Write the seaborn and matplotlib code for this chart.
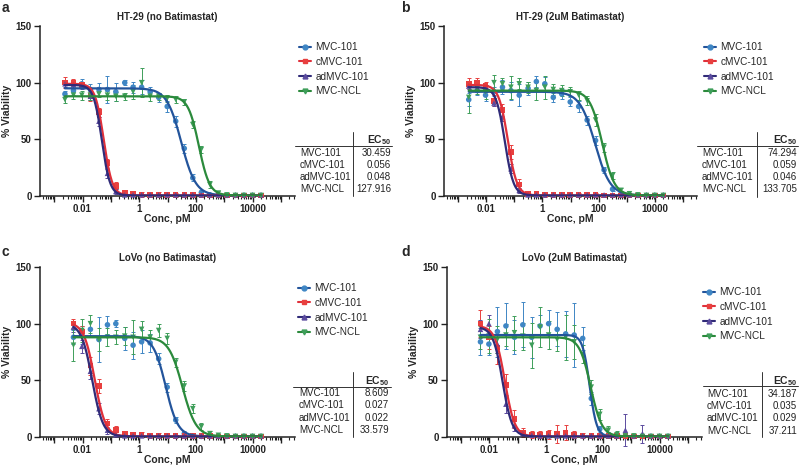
import numpy as np
import pandas as pd
import matplotlib
matplotlib.use('Agg')
import matplotlib.pyplot as plt
import seaborn as sns
from matplotlib.lines import Line2D
from matplotlib.ticker import FixedLocator, FuncFormatter, NullFormatter

# ---------------- data ----------------
drugs = ['MVC-101', 'cMVC-101', 'adMVC-101', 'MVC-NCL']

# concentrations, pM (2-fold dilution series)
conc_ht29 = [0.0024, 0.0048, 0.0095, 0.019, 0.038, 0.076, 0.15, 0.31, 0.61, 1.22, 2.44, 4.88,
             9.77, 19.5, 39.1, 78.1, 156, 313, 625, 1250, 2500, 5000, 10000, 20000]
conc_lovo = [0.0048, 0.0095, 0.019, 0.038, 0.076, 0.15, 0.31, 0.61, 1.22, 2.44, 4.88,
             9.77, 19.5, 39.1, 78.1, 156, 313, 625, 1250, 2500, 5000, 10000, 20000]

# panel a: HT-29 (no Batimastat)
a_mvc = [90, 93, 99, 94, 94, 94, 92, 100, 96, 96, 92, 87, 79, 66, 42, 16, 3, 1, 0.5, 0.5, 0.5, 0.5, 0.5, 0.5]
a_mvc_sd = [3, 4, 4, 5, 6, 12, 8, 2, 5, 6, 4, 4, 5, 5, 4, 3, 2, 1, 1, 1, 1, 1, 1, 1]
a_cmvc = [100, 100, 98, 88, 74, 29, 9, 3, 2, 1.5, 1, 1.5, 1, 1, 1, 1, 0.5, 0.5, 0.5, 0.5, 0.5, 0.5, 0.5, 0.5]
a_cmvc_sd = [5, 3, 3, 4, 4, 4, 3, 2, 2, 2, 2, 2, 2, 2, 2, 1, 1, 1, 1, 1, 1, 1, 1, 1]
a_admvc = [99, 98, 97, 88, 66, 20, 4, 1, 1, 1, 1, 1, 1, 1, 1, 1, 1, 1, 1, 1, 1, 1, 1, 1]
a_admvc_sd = [3, 3, 3, 3, 4, 4, 2, 1, 1, 1, 1, 1, 1, 1, 1, 1, 1, 1, 1, 1, 1, 1, 1, 1]
a_ncl = [85, 89, 89, 89, 90, 89, 88, 88, 92, 100, 88, 88, 86, 85, 83, 63, 41, 10, 2.6, 1, 0.5, 0.5, 0.5, 0.5]
a_ncl_sd = [3, 3, 4, 4, 3, 4, 4, 3, 6, 13, 4, 3, 3, 3, 3, 3, 3, 3, 2, 1, 1, 1, 1, 1]

# panel b: HT-29 (2uM Batimastat)
b_mvc = [85, 93, 89, 92, 96, 93, 89, 95, 101, 99, 87, 90, 83, 79, 67, 49, 23, 6, 2, 1, 0.5, 0.5, 0.5, 0.5]
b_mvc_sd = [6, 4, 5, 4, 6, 8, 10, 6, 5, 6, 4, 4, 4, 5, 4, 4, 3, 2, 1, 1, 1, 1, 1, 1]
b_cmvc = [99, 100, 97, 84, 76, 39, 10, 2, 2, 1.5, 1.5, 1.5, 1, 1, 1, 1, 0.5, 0.5, 0.5, 0.5, 0.5, 0.5, 0.5, 0.5]
b_cmvc_sd = [5, 4, 4, 5, 5, 6, 5, 2, 2, 2, 2, 2, 1.5, 1.5, 1.5, 1.5, 1, 1, 1, 1, 1, 1, 1, 1]
b_admvc = [97, 95, 95, 82, 70, 24, 5, 1, 1, 1, 1, 1, 1, 1, 1, 1, 1, 1, 1, 1, 1, 1, 1, 1]
b_admvc_sd = [3, 3, 3, 3, 4, 4, 2, 1, 1, 1, 1, 1, 1, 1, 1, 1, 1, 1, 1, 1, 1, 1, 1, 1]
b_ncl = [87, 95, 92, 100, 99, 96, 99, 96, 93, 96, 94, 93, 92, 89, 84, 67, 43, 18, 5, 2, 1, 0.5, 0.5, 0.5]
b_ncl_sd = [14, 5, 6, 7, 5, 10, 5, 5, 8, 10, 5, 5, 4, 4, 4, 5, 4, 3, 2, 1, 1, 1, 1, 1]

# panel c: LoVo (no Batimastat)
c_mvc = [88, 90, 95, 86, 99, 100, 87, 81, 84, 83, 69, 44, 15, 3, 1, 0.5, 0.5, 0.5, 0.5, 0.5, 0.5, 0.5, 0.5]
c_mvc_sd = [6, 8, 7, 20, 8, 3, 10, 12, 10, 8, 5, 4, 3, 2, 1, 1, 1, 1, 1, 1, 1, 1, 1]
c_cmvc = [100, 93, 63, 45, 12, 6, 3, 2, 2, 1.5, 1.5, 1.5, 1, 1, 1, 1, 1, 0.5, 0.5, 0.5, 0.5, 0.5, 0.5]
c_cmvc_sd = [4, 5, 8, 6, 4, 4, 2, 2, 2, 2, 2, 2, 1, 1, 1, 1, 1, 1, 1, 1, 1, 1, 1]
c_admvc = [97, 80, 58, 25, 6, 2, 1, 1, 1, 1, 1, 1, 1, 1, 1, 1, 1, 1, 1, 1, 1, 1, 1]
c_admvc_sd = [4, 6, 7, 5, 3, 2, 1, 1, 1, 1, 1, 1, 1, 1, 1, 1, 1, 1, 1, 1, 1, 1, 1]
c_ncl = [81, 94, 100, 86, 88, 88, 89, 88, 95, 88, 94, 87, 66, 45, 25, 9, 3, 1.5, 1, 0.5, 0.5, 0.5, 0.5]
c_ncl_sd = [14, 10, 8, 10, 8, 6, 8, 15, 7, 6, 6, 5, 4, 4, 4, 3, 2, 1, 1, 1, 1, 1, 1]

# panel d: LoVo (2uM Batimastat)
d_mvc = [84, 82, 93, 98, 88, 99, 88, 98, 100, 95, 91, 90, 87, 34, 7, 2, 1, 1, 0.5, 0.5, 0.5, 0.5, 0.5]
d_mvc_sd = [12, 10, 22, 20, 15, 20, 18, 10, 12, 15, 20, 28, 10, 6, 3, 2, 1, 1, 1, 1, 1, 1, 1]
d_cmvc = [100, 88, 79, 46, 16, 4, 2, 2, 2.5, 3, 4, 2, 1.5, 1.5, 1, 1, 1, 1, 0.5, 0.5, 0.5, 0.5, 0.5]
d_cmvc_sd = [12, 10, 15, 10, 8, 4, 3, 3, 4, 8, 7, 3, 2, 2, 2, 2, 1, 1, 1, 1, 1, 1, 1]
d_admvc = [95, 100, 82, 29, 10, 3, 1.5, 1, 1, 1, 1, 1, 1, 1, 1, 1, 1, 6, 1, 3, 1, 1, 1]
d_admvc_sd = [8, 8, 8, 8, 5, 2, 1, 1, 1, 1, 1, 1, 1, 1, 1, 1, 1, 14, 1, 8, 1, 1, 1]
d_ncl = [88, 89, 86, 90, 92, 89, 81, 97, 90, 86, 88, 84, 73, 44, 20, 6, 2, 1, 1, 0.5, 0.5, 0.5, 0.5]
d_ncl_sd = [10, 15, 12, 10, 15, 12, 20, 18, 12, 10, 20, 15, 8, 6, 5, 4, 3, 2, 1, 1, 1, 1, 1]

# 4PL fit parameters [MVC-101, cMVC-101, adMVC-101, MVC-NCL]
a_ec50 = [30.459, 0.056, 0.048, 127.916]
b_ec50 = [74.294, 0.059, 0.046, 133.705]
c_ec50 = [8.609, 0.027, 0.022, 33.579]
d_ec50 = [34.187, 0.035, 0.029, 37.211]
a_top, a_hill = [95, 99, 98, 88], [1.7, 2.9, 3.0, 2.3]
b_top, b_hill = [92, 98, 96, 93], [1.6, 2.7, 2.8, 2.0]
c_top, c_hill = [89, 101, 100, 88], [2.0, 2.3, 2.3, 1.8]
d_top, d_hill = [90, 98, 97, 88], [3.5, 2.5, 2.6, 2.2]
bottom = [0.5, 0.5, 0.5, 0.5]

ec50_text = {
    'a': ['30.459', '0.056', '0.048', '127.916'],
    'b': ['74.294', '0.059', '0.046', '133.705'],
    'c': ['8.609', '0.027', '0.022', '33.579'],
    'd': ['34.187', '0.035', '0.029', '37.211'],
}

titles = ['HT-29 (no Batimastat)', 'HT-29 (2uM Batimastat)', 'LoVo (no Batimastat)', 'LoVo (2uM Batimastat)']
letters = ['a', 'b', 'c', 'd']

# ---------------- style ----------------
sns.set_theme(style='ticks')
plt.rcParams['font.family'] = ['Liberation Sans', 'DejaVu Sans']
plt.rcParams['mathtext.fontset'] = 'custom'
plt.rcParams['mathtext.rm'] = 'Liberation Sans'
plt.rcParams['mathtext.bf'] = 'Liberation Sans:bold'

point_colors = {'MVC-101': '#3f86c4', 'cMVC-101': '#e8403f', 'adMVC-101': '#5b4b9e', 'MVC-NCL': '#3e9e5a'}
curve_colors = {'MVC-101': '#23549b', 'cMVC-101': '#e0303a', 'adMVC-101': '#302b78', 'MVC-NCL': '#2b8a3c'}
markers = {'MVC-101': 'o', 'cMVC-101': 's', 'adMVC-101': '^', 'MVC-NCL': 'v'}

W, H = 800, 467
fig = plt.figure(figsize=(8, 4.67), dpi=100)


def fx(px):
    return px / W


def fy(py):
    return 1 - py / H


panels = [
    (conc_ht29, [a_mvc, a_cmvc, a_admvc, a_ncl], [a_mvc_sd, a_cmvc_sd, a_admvc_sd, a_ncl_sd], a_ec50, a_top, a_hill),
    (conc_ht29, [b_mvc, b_cmvc, b_admvc, b_ncl], [b_mvc_sd, b_cmvc_sd, b_admvc_sd, b_ncl_sd], b_ec50, b_top, b_hill),
    (conc_lovo, [c_mvc, c_cmvc, c_admvc, c_ncl], [c_mvc_sd, c_cmvc_sd, c_admvc_sd, c_ncl_sd], c_ec50, c_top, c_hill),
    (conc_lovo, [d_mvc, d_cmvc, d_admvc, d_ncl], [d_mvc_sd, d_cmvc_sd, d_admvc_sd, d_ncl_sd], d_ec50, d_top, d_hill),
]

# layout in pixels: axes box, legend anchor, table geometry, letter position
boxes = [(40, 26, 295, 196), (444, 26, 697, 196), (40, 267, 295, 437), (447, 267, 702, 437)]
legend_pos = [(299, 42), (704, 42), (298, 283), (703, 287)]
tables = [
    dict(left=295, name_x=300, vline=353, right=392, val_x=391, hline=146, top=132, bot=196, head=140, rows=[153, 165, 177, 189]),
    dict(left=697, name_x=702, vline=757, right=798, val_x=797, hline=146, top=132, bot=197, head=140, rows=[153, 165, 177, 189]),
    dict(left=293, name_x=299, vline=353, right=391, val_x=389, hline=387, top=372, bot=437, head=381, rows=[393, 405, 418, 430]),
    dict(left=703, name_x=707, vline=762, right=798, val_x=797, hline=386, top=372, bot=437, head=381, rows=[394, 406, 418, 431]),
]
letter_pos = [(2, 1), (401, 1), (2, 245), (401, 245)]

major_ticks = [10.0 ** e for e in range(-3, 6)]
minor_ticks = [m * 10.0 ** e for e in range(-4, 6) for m in range(2, 10)]


def tick_label(v, pos):
    e = int(round(np.log10(v)))
    if e % 2 != 0:
        return ''
    return {-2: '0.01', 0: '1', 2: '100', 4: '10000'}.get(e, '')


for i, (conc, ys, sds, ec50, top, hill) in enumerate(panels):
    x0, y0, x1, y1 = boxes[i]
    ax = fig.add_axes([fx(x0), fy(y1), (x1 - x0) / W, (y1 - y0) / H])

    # fitted 4PL curves
    xs = np.logspace(np.log10(conc[0]), np.log10(conc[-1]), 400)
    curve_rows = []
    for j, d in enumerate(drugs):
        yfit = bottom[j] + (top[j] - bottom[j]) / (1 + (xs / ec50[j]) ** hill[j])
        curve_rows.append(pd.DataFrame({'conc': xs, 'viability': yfit, 'drug': d}))
    curve_df = pd.concat(curve_rows, ignore_index=True)

    # data points
    pts_df = pd.concat([pd.DataFrame({'conc': conc, 'viability': ys[j], 'sd': sds[j], 'drug': d})
                        for j, d in enumerate(drugs)], ignore_index=True)

    for j, d in enumerate(drugs):
        sub = pts_df[pts_df['drug'] == d]
        ax.errorbar(sub['conc'], sub['viability'], yerr=sub['sd'], fmt='none',
                    ecolor=point_colors[d], elinewidth=0.7, capsize=1.4, capthick=0.7,
                    clip_on=False, zorder=2)

    sns.scatterplot(data=pts_df, x='conc', y='viability', hue='drug', style='drug',
                    markers=markers, palette=point_colors, s=16, linewidth=0,
                    legend=False, ax=ax, clip_on=False, zorder=3)

    sns.lineplot(data=curve_df, x='conc', y='viability', hue='drug', palette=curve_colors,
                 linewidth=1.6, legend=False, ax=ax, zorder=4)

    ax.set_xscale('log')
    ax.set_xlim(10 ** -3.5, 10 ** 5.5)
    ax.set_ylim(0, 150)
    ax.set_yticks([0, 50, 100, 150])
    ax.xaxis.set_major_locator(FixedLocator(major_ticks))
    ax.xaxis.set_major_formatter(FuncFormatter(tick_label))
    ax.xaxis.set_minor_locator(FixedLocator(minor_ticks))
    ax.xaxis.set_minor_formatter(NullFormatter())
    sns.despine(ax=ax)
    for s in ['left', 'bottom']:
        ax.spines[s].set_linewidth(1.1)
        ax.spines[s].set_color('#222222')
    ax.tick_params(axis='both', which='major', length=4, width=1, pad=2, labelsize=7, colors='#222222')
    ax.tick_params(axis='x', which='minor', length=2, width=0.8, colors='#222222')
    for lab in ax.get_xticklabels() + ax.get_yticklabels():
        lab.set_fontweight('bold')

    ax.set_title(titles[i], fontsize=7, fontweight='bold', pad=4)
    ax.set_xlabel('Conc, pM', fontsize=7.5, fontweight='bold')
    ax.set_ylabel('% Viability', fontsize=7.5, fontweight='bold')
    ax.xaxis.set_label_coords(0.5, -0.105)
    ax.yaxis.set_label_coords(-0.11, 0.5)

    # legend
    handles = [Line2D([0], [0], color=curve_colors[d], lw=1.5, marker=markers[d],
                      markerfacecolor=point_colors[d], markeredgecolor=point_colors[d], markersize=3.5)
               for d in drugs]
    lx, ly = legend_pos[i]
    ax.legend(handles, drugs, loc='upper left', bbox_to_anchor=(fx(lx), fy(ly)),
              bbox_transform=fig.transFigure, frameon=False, fontsize=7.2,
              handlelength=1.2, handletextpad=0.45, labelspacing=0.48, borderpad=0, borderaxespad=0)

    # EC50 table
    t = tables[i]
    fig.add_artist(Line2D([fx(t['vline']), fx(t['vline'])], [fy(t['top']), fy(t['bot'])],
                          color='#333333', lw=0.7))
    fig.add_artist(Line2D([fx(t['left']), fx(t['right'])], [fy(t['hline']), fy(t['hline'])],
                          color='#333333', lw=0.7))
    fig.text(fx(t['val_x']), fy(t['head']), r'$\mathbf{EC_{50}}$', fontsize=7.5,
             ha='right', va='center')
    for j, d in enumerate(drugs):
        fig.text(fx(t['name_x']), fy(t['rows'][j]), d, fontsize=7, ha='left', va='center', color='#222222')
        fig.text(fx(t['val_x']), fy(t['rows'][j]), ec50_text[letters[i]][j], fontsize=7,
                 ha='right', va='center', color='#222222')

    # panel letter
    px, py = letter_pos[i]
    fig.text(fx(px), fy(py), letters[i], fontsize=10, fontweight='bold', ha='left', va='top')

fig.savefig('out.png', dpi=100)
